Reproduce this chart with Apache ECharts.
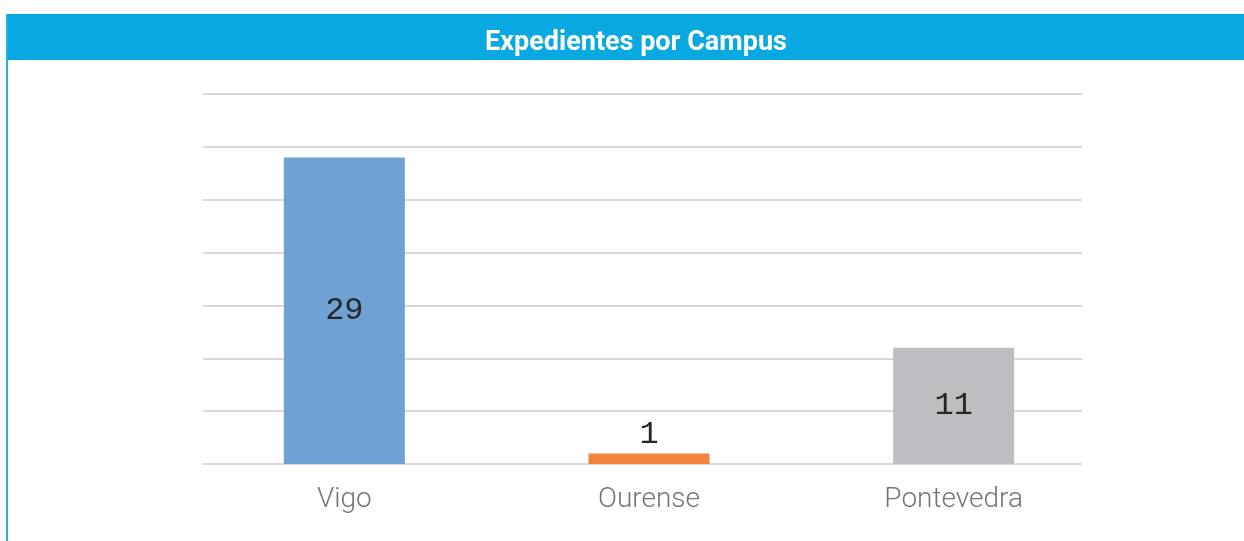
<!DOCTYPE html>
<html>
<head>
    <meta charset="UTF-8">
    <title>Expedientes por Campus</title>
    <script src="https://cdn.jsdelivr.net/npm/echarts@6/dist/echarts.min.js"></script>
    <style>
        html, body { margin: 0; padding: 0; background: #fff; }
        #chart { width: 1244px; height: 541px; }
    </style>
</head>
<body>
<div id="chart"></div>
<script>
    // datos
    var campus = ['Vigo', 'Ourense', 'Pontevedra'];
    var expedientes = [29, 1, 11];
    var yTicks = [0, 5, 10, 15, 20, 25, 30, 35];

    var colores = ['#70A1D5', '#F4823A', '#BDBEC1'];

    var myChart = echarts.init(document.getElementById('chart'));

    var barData = expedientes.map(function (v, i) {
        return {
            value: v,
            itemStyle: { color: colores[i] },
            label: { position: v < 3 ? 'top' : 'inside' }
        };
    });

    myChart.setOption({
        animation: false,
        title: {
            text: 'Expedientes por Campus',
            left: 631,
            top: 38,
            textAlign: 'center',
            textVerticalAlign: 'middle',
            textStyle: {
                color: '#fff',
                fontFamily: 'Roboto',
                fontWeight: 'bold',
                fontSize: 27
            }
        },
        graphic: [
            {
                type: 'rect',
                z: -1,
                shape: { x: 6, y: 14, width: 1238, height: 46 },
                style: { fill: '#08A8E0' }
            },
            {
                type: 'rect',
                z: -1,
                shape: { x: 6, y: 14, width: 2, height: 527 },
                style: { fill: '#2AAEE0' }
            }
        ],
        grid: [
            // lineas de la cuadricula
            { left: 203, right: 162, top: 94, bottom: 77 },
            // barras
            { left: 192, right: 138, top: 94, bottom: 77 }
        ],
        xAxis: [
            {
                type: 'category',
                gridIndex: 0,
                data: campus,
                axisLine: { show: false },
                axisTick: { show: false },
                axisLabel: { show: false }
            },
            {
                type: 'category',
                gridIndex: 1,
                data: campus,
                axisLine: { show: false },
                axisTick: { show: false },
                axisLabel: {
                    color: '#757575',
                    fontFamily: 'Roboto',
                    fontWeight: 300,
                    fontSize: 28,
                    margin: 22
                }
            }
        ],
        yAxis: [
            {
                type: 'value',
                gridIndex: 0,
                min: yTicks[0],
                max: yTicks[yTicks.length - 1],
                interval: yTicks[1] - yTicks[0],
                axisLine: { show: false },
                axisTick: { show: false },
                axisLabel: { show: false },
                splitLine: { lineStyle: { color: '#D9D9D9', width: 2 } }
            },
            {
                type: 'value',
                gridIndex: 1,
                min: yTicks[0],
                max: yTicks[yTicks.length - 1],
                interval: yTicks[1] - yTicks[0],
                axisLine: { show: false },
                axisTick: { show: false },
                axisLabel: { show: false },
                splitLine: { show: false }
            }
        ],
        series: [
            {
                name: 'Expedientes',
                type: 'bar',
                xAxisIndex: 1,
                yAxisIndex: 1,
                barWidth: 121,
                data: barData,
                label: {
                    show: true,
                    color: '#262626',
                    fontFamily: 'Liberation Mono',
                    fontSize: 32,
                    distance: 3
                }
            }
        ]
    });
</script>
</body>
</html>
